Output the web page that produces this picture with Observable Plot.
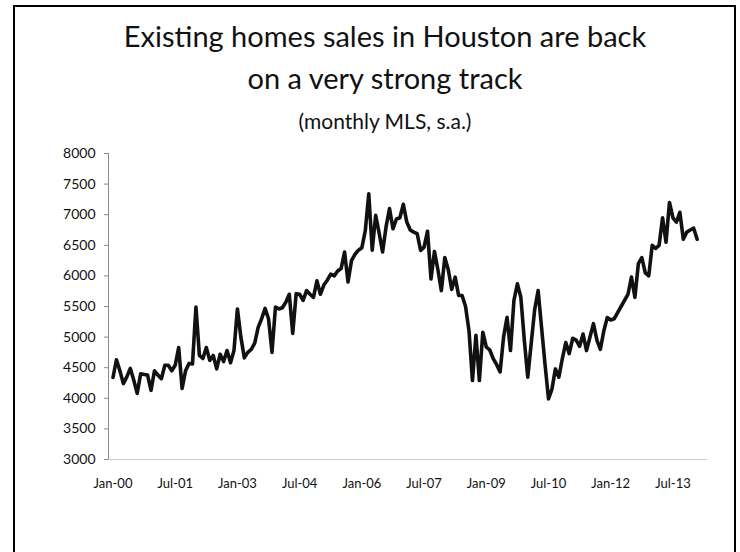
<!DOCTYPE html>
<html>
<head>
<meta charset="utf-8">
<script src="https://cdn.jsdelivr.net/npm/d3@7"></script>
<script src="https://cdn.jsdelivr.net/npm/@observablehq/plot@0.6"></script>
<style>
  html, body { margin: 0; padding: 0; background: #fff; width: 740px; height: 552px; overflow: hidden; }
  #frame { position: absolute; left: 13px; top: 5px; width: 719px; height: 640px; border: 2px solid #000; border-bottom: none; }
  .t { position: absolute; left: 0; width: 770px; text-align: center; font-family: Lato, "Open Sans", sans-serif; color: #111; white-space: nowrap; }
  #chart { position: absolute; left: 0; top: 0; }
</style>
</head>
<body>
<div id="frame"></div>
<div class="t" style="top:18px; font-size:29px;">Existing homes sales in Houston are back</div>
<div class="t" style="top:60px; font-size:29px;">on a very strong track</div>
<div class="t" style="top:108px; font-size:21px;">(monthly MLS, s.a.)</div>
<div id="chart"></div>
<script>
// Monthly existing home sales (MLS, s.a.), Jan 2000 onward
const startYear = 2000;
const sales = [
  4340, 4630, 4450, 4240, 4350, 4490, 4300, 4080, 4400, 4390, 4380, 4130,
  4450, 4380, 4320, 4540, 4540, 4450, 4540, 4830, 4160, 4450, 4570, 4560,
  5490, 4700, 4650, 4830, 4620, 4700, 4480, 4720, 4600, 4780, 4580, 4780,
  5460, 5000, 4660, 4750, 4800, 4900, 5160, 5300, 5470, 5300, 4750, 5490,
  5460, 5480, 5570, 5700, 5060, 5710, 5700, 5600, 5760, 5700, 5650, 5920,
  5700, 5850, 5930, 6030, 6000, 6080, 6120, 6390, 5900, 6250, 6350, 6420,
  6460, 6740, 7340, 6420, 6990, 6700, 6390, 6800, 7100, 6770, 6930, 6950,
  7170, 6880, 6750, 6715, 6690, 6415, 6470, 6730, 5950, 6400, 6100, 5760,
  6300, 6100, 5780, 5980, 5680, 5680, 5500, 5100, 4290, 5030, 4290, 5080,
  4835, 4790, 4650, 4550, 4430, 5000, 5325, 4780, 5600, 5870, 5650, 4950,
  4345, 4900, 5450, 5760, 5150, 4550, 3990, 4150, 4480, 4345, 4650, 4910,
  4730, 4980, 4950, 4850, 5050, 4780, 5000, 5220, 4950, 4800, 5100, 5320,
  5280, 5300, 5400, 5500, 5600, 5700, 5980, 5650, 6200, 6300, 6050, 6000,
  6500, 6450, 6500, 6950, 6550, 7200, 6950, 6880, 7040, 6600, 6715, 6750,
  6780, 6600
];
const xTickMonths = [0, 18, 36, 54, 72, 90, 108, 126, 144, 162];
const xTickLabels = ["Jan-00", "Jul-01", "Jan-03", "Jul-04", "Jan-06", "Jul-07", "Jan-09", "Jul-10", "Jan-12", "Jul-13"];
const yTicks = [3000, 3500, 4000, 4500, 5000, 5500, 6000, 6500, 7000, 7500, 8000];

const data = sales.map((v, i) => ({month: i, value: v}));
const labelOf = new Map(xTickMonths.map((m, i) => [m, xTickLabels[i]]));

const chart = Plot.plot({
  width: 740,
  height: 552,
  marginLeft: 108,
  marginRight: 33,
  marginTop: 153,
  marginBottom: 93,
  style: {fontFamily: "Lato, 'Open Sans', sans-serif", background: "transparent", color: "#111"},
  x: {domain: [-1.3, 172], axis: null, label: null},
  y: {domain: [3000, 8000], axis: null, label: null},
  marks: [
    Plot.ruleX([-1.3], {stroke: "#888", strokeWidth: 1}),
    Plot.ruleY([3000], {stroke: "#bbb", strokeWidth: 0.8}),
    Plot.axisY(yTicks, {tickSize: 4, tickPadding: 9, fontSize: 14, stroke: "#888", fill: "#111", anchor: "left", label: null, tickFormat: d => String(d)}),
    Plot.axisX(xTickMonths, {tickSize: 0, tickPadding: 19, fontSize: 13, fill: "#111", tickFormat: m => labelOf.get(m), anchor: "bottom", label: null}),
    Plot.line(data, {x: "month", y: "value", stroke: "#111", strokeWidth: 3.6, strokeLinejoin: "round", strokeLinecap: "round"})
  ]
});
document.getElementById("chart").appendChild(chart);
</script>
</body>
</html>
